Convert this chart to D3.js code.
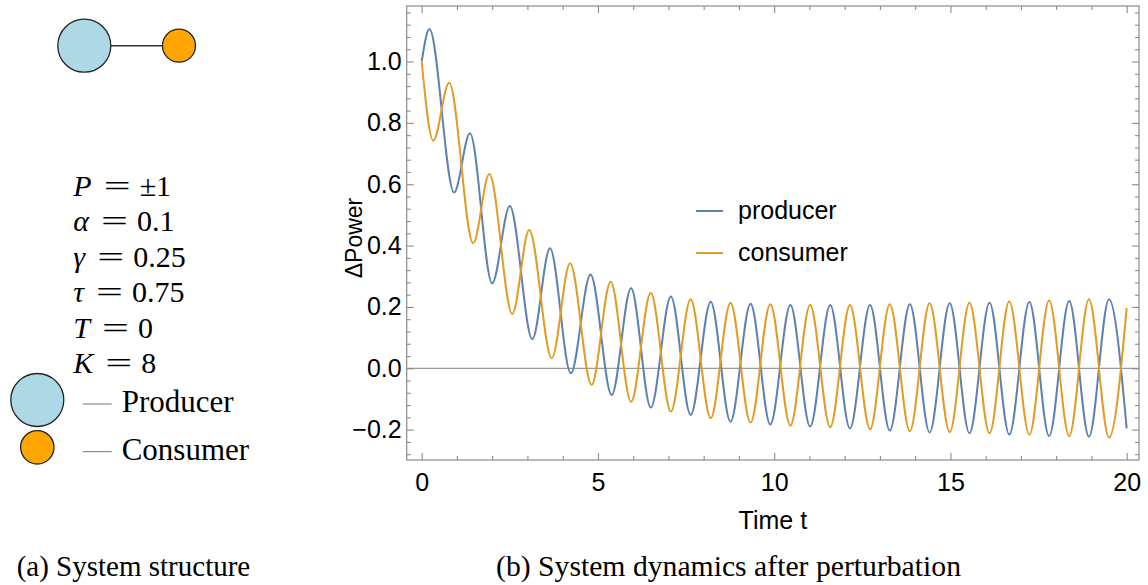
<!DOCTYPE html>
<html>
<head>
<meta charset="utf-8">
<script src="https://cdn.jsdelivr.net/npm/d3@7"></script>
<style>
  body { margin: 0; background: #fff; }
  svg { display: block; }
</style>
</head>
<body>
<svg id="fig" width="1148" height="585"></svg>
<script>
// extrema (time, value)
const producerTimes = [0, 0.22, 0.92, 1.37, 2.0, 2.5, 3.14, 3.64, 4.23, 4.79, 5.39, 5.94, 6.5, 7.07, 7.63, 8.2, 8.76, 9.33, 9.89, 10.46, 11.02, 11.59, 12.15, 12.72, 13.28, 13.85, 14.41, 14.98, 15.54, 16.11, 16.67, 17.24, 17.8, 18.37, 18.93, 19.5, 20];
const producerValues = [1.0, 1.106, 0.573, 0.766, 0.277, 0.529, 0.095, 0.391, -0.016, 0.306, -0.087, 0.261, -0.128, 0.234, -0.152, 0.217, -0.174, 0.21, -0.183, 0.206, -0.19, 0.206, -0.196, 0.206, -0.203, 0.209, -0.209, 0.212, -0.212, 0.214, -0.216, 0.216, -0.221, 0.219, -0.223, 0.225, -0.196];

const consumerTimes = [0, 0.33, 0.78, 1.46, 1.92, 2.57, 3.05, 3.69, 4.21, 4.82, 5.36, 5.94, 6.5, 7.07, 7.63, 8.2, 8.76, 9.33, 9.89, 10.46, 11.02, 11.59, 12.15, 12.72, 13.28, 13.85, 14.41, 14.98, 15.54, 16.11, 16.67, 17.24, 17.8, 18.37, 18.93, 19.5, 20];
const consumerValues = [1.0, 0.742, 0.931, 0.408, 0.633, 0.177, 0.451, 0.033, 0.342, -0.054, 0.282, -0.109, 0.245, -0.141, 0.225, -0.163, 0.214, -0.177, 0.209, -0.187, 0.206, -0.192, 0.206, -0.199, 0.209, -0.205, 0.212, -0.208, 0.214, -0.212, 0.218, -0.216, 0.221, -0.221, 0.225, -0.226, 0.196];

const seriesNames = ['producer', 'consumer'];
const seriesColors = ['#5e81b5', '#e19c24'];

const xTicks = [0, 5, 10, 15, 20];
const yTicks = [-0.2, 0.0, 0.2, 0.4, 0.6, 0.8, 1.0];

const paramNames = ['P', 'α', 'γ', 'τ', 'T', 'K'];
const paramValues = ['±1', '0.1', '0.25', '0.75', '0', '8'];

const nodeNames = ['Producer', 'Consumer'];
const nodeColors = ['#add8e6', '#ffa500'];

const captions = ['(a) System structure', '(b) System dynamics after perturbation'];

const svg = d3.select('#fig');
const frameColor = '#8a8a8a';
const sans = '"Liberation Sans", Arial, sans-serif';
const serif = '"Liberation Serif", "Times New Roman", serif';

// ---------- right panel: the plot ----------
const pLeft = 406.7, pRight = 1139, pTop = 6, pBottom = 460;

const x = d3.scaleLinear().domain([-0.425, 20.35]).range([pLeft, pRight]);
const y = d3.scaleLinear().domain([-0.299, 1.181]).range([pBottom, pTop]);

const xMinor = d3.range(0, 21, 1).filter(function(d){ return d % 5 !== 0; });
const yMinor = d3.range(-0.28, 1.17, 0.04).filter(function(d){
  return Math.abs(d / 0.2 - Math.round(d / 0.2)) > 0.01;
});

svg.append('defs').append('clipPath').attr('id', 'plotClip')
  .append('rect')
  .attr('x', pLeft).attr('y', pTop)
  .attr('width', pRight - pLeft).attr('height', pBottom - pTop);

// zero line
svg.append('line')
  .attr('x1', pLeft).attr('x2', pRight)
  .attr('y1', y(0)).attr('y2', y(0))
  .attr('stroke', '#9a9a9a')
  .attr('stroke-width', 1.2);

function styleAxis(g) {
  g.select('.domain').remove();
  g.selectAll('line').attr('stroke', frameColor).attr('stroke-width', 1.1);
  g.selectAll('text')
    .attr('fill', '#000')
    .style('font-family', sans)
    .style('font-size', '25px');
}

// bottom axis, labelled
svg.append('g')
  .attr('transform', 'translate(0,' + pBottom + ')')
  .call(d3.axisBottom(x).tickValues(xTicks).tickSize(-7).tickPadding(13).tickFormat(d3.format('d')))
  .call(styleAxis);
svg.append('g')
  .attr('transform', 'translate(0,' + pBottom + ')')
  .call(d3.axisBottom(x).tickValues(xMinor).tickSize(-4).tickFormat(''))
  .call(styleAxis);

// top axis, mirrored ticks
svg.append('g')
  .attr('transform', 'translate(0,' + pTop + ')')
  .call(d3.axisTop(x).tickValues(xTicks).tickSize(-7).tickFormat(''))
  .call(styleAxis);
svg.append('g')
  .attr('transform', 'translate(0,' + pTop + ')')
  .call(d3.axisTop(x).tickValues(xMinor).tickSize(-4).tickFormat(''))
  .call(styleAxis);

// left axis, labelled
svg.append('g')
  .attr('transform', 'translate(' + pLeft + ',0)')
  .call(d3.axisLeft(y).tickValues(yTicks).tickSize(-7).tickPadding(5).tickFormat(d3.format('.1f')))
  .call(styleAxis);
svg.append('g')
  .attr('transform', 'translate(' + pLeft + ',0)')
  .call(d3.axisLeft(y).tickValues(yMinor).tickSize(-4).tickFormat(''))
  .call(styleAxis);

// right axis, mirrored ticks
svg.append('g')
  .attr('transform', 'translate(' + pRight + ',0)')
  .call(d3.axisRight(y).tickValues(yTicks).tickSize(-7).tickFormat(''))
  .call(styleAxis);
svg.append('g')
  .attr('transform', 'translate(' + pRight + ',0)')
  .call(d3.axisRight(y).tickValues(yMinor).tickSize(-4).tickFormat(''))
  .call(styleAxis);

// frame
svg.append('rect')
  .attr('x', pLeft).attr('y', pTop)
  .attr('width', pRight - pLeft).attr('height', pBottom - pTop)
  .attr('fill', 'none')
  .attr('stroke', frameColor)
  .attr('stroke-width', 1.2);

// curves
const series = [
  producerTimes.map(function(t, i){ return [t, producerValues[i]]; }),
  consumerTimes.map(function(t, i){ return [t, consumerValues[i]]; })
];

const line = d3.line()
  .x(function(d){ return x(d[0]); })
  .y(function(d){ return y(d[1]); })
  .curve(d3.curveMonotoneX);

svg.append('g')
  .attr('clip-path', 'url(#plotClip)')
  .selectAll('path')
  .data(series)
  .enter()
  .append('path')
  .attr('d', line)
  .attr('fill', 'none')
  .attr('stroke', function(d, i){ return seriesColors[i]; })
  .attr('stroke-width', 2);

// legend
const legend = svg.selectAll('g.legend')
  .data(seriesNames)
  .enter()
  .append('g')
  .attr('class', 'legend')
  .attr('transform', function(d, i){ return 'translate(696,' + (211 + i * 42) + ')'; });

legend.append('line')
  .attr('x1', 0).attr('x2', 27)
  .attr('stroke', function(d, i){ return seriesColors[i]; })
  .attr('stroke-width', 2);

legend.append('text')
  .attr('x', 42)
  .attr('y', 8)
  .style('font-family', sans)
  .style('font-size', '25px')
  .text(function(d){ return d; });

// axis titles
svg.append('text')
  .attr('x', (pLeft + pRight) / 2)
  .attr('y', 529)
  .attr('text-anchor', 'middle')
  .style('font-family', sans)
  .style('font-size', '25px')
  .text('Time t');

svg.append('text')
  .attr('transform', 'translate(362,238) rotate(-90)')
  .attr('text-anchor', 'middle')
  .style('font-family', sans)
  .style('font-size', '23px')
  .text('ΔPower');

// ---------- left panel: system structure ----------
svg.append('line')
  .attr('x1', 84.3).attr('x2', 179)
  .attr('y1', 45.7).attr('y2', 45.7)
  .attr('stroke', '#333')
  .attr('stroke-width', 1.5);

svg.selectAll('circle.node')
  .data(nodeColors)
  .enter()
  .append('circle')
  .attr('class', 'node')
  .attr('cx', function(d, i){ return i === 0 ? 84.3 : 179; })
  .attr('cy', 45.7)
  .attr('r', function(d, i){ return i === 0 ? 26.5 : 16.5; })
  .attr('fill', function(d){ return d; })
  .attr('stroke', '#222')
  .attr('stroke-width', 1.3);

// parameter list
const params = svg.selectAll('g.param')
  .data(paramNames)
  .enter()
  .append('g')
  .attr('class', 'param')
  .attr('transform', function(d, i){ return 'translate(73.3,' + (196 + i * 35.4) + ')'; });

params.each(function(d, i) {
  const g = d3.select(this);
  const v = g.append('text')
    .style('font-family', serif)
    .style('font-style', 'italic')
    .style('font-size', '30px')
    .text(d);
  const w = v.node().getComputedTextLength();
  const ex = w + 12;
  g.append('text')
    .attr('x', ex)
    .attr('textLength', 27)
    .attr('lengthAdjust', 'spacingAndGlyphs')
    .style('font-family', serif)
    .style('font-size', '29px')
    .text('=');
  g.append('text')
    .attr('x', ex + 36)
    .style('font-family', serif)
    .style('font-size', '30px')
    .text(paramValues[i]);
});

// node key
const key = svg.selectAll('g.key')
  .data(nodeNames)
  .enter()
  .append('g')
  .attr('class', 'key');

key.append('circle')
  .attr('cx', 37.3)
  .attr('cy', function(d, i){ return i === 0 ? 400 : 447.3; })
  .attr('r', function(d, i){ return i === 0 ? 26.5 : 16.7; })
  .attr('fill', function(d, i){ return nodeColors[i]; })
  .attr('stroke', '#222')
  .attr('stroke-width', 1.3);

key.append('line')
  .attr('x1', 82.7).attr('x2', 111.7)
  .attr('y1', function(d, i){ return i === 0 ? 404 : 451.7; })
  .attr('y2', function(d, i){ return i === 0 ? 404 : 451.7; })
  .attr('stroke', '#777')
  .attr('stroke-width', 1);

key.append('text')
  .attr('x', 121.7)
  .attr('y', function(d, i){ return i === 0 ? 411.7 : 460; })
  .style('font-family', serif)
  .style('font-size', '31px')
  .text(function(d){ return d; });

// captions
svg.selectAll('text.caption')
  .data(captions)
  .enter()
  .append('text')
  .attr('class', 'caption')
  .attr('x', function(d, i){ return i === 0 ? 16.7 : 496; })
  .attr('y', 576)
  .style('font-family', serif)
  .style('font-size', function(d, i){ return i === 0 ? '29px' : '29.7px'; })
  .text(function(d){ return d; });
</script>
</body>
</html>
